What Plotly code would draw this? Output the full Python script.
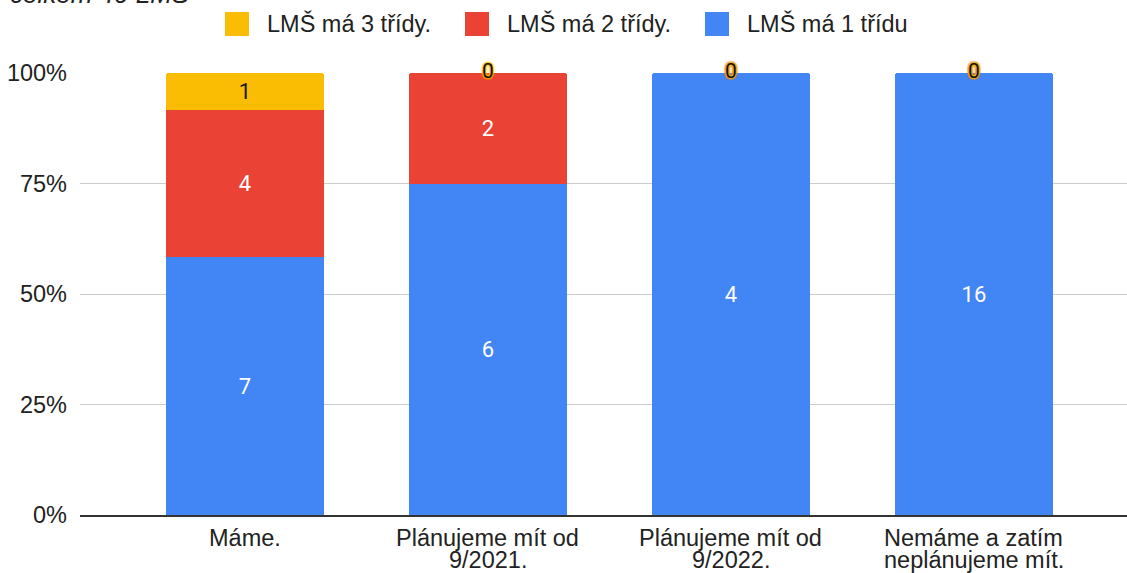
import numpy as np
import plotly.graph_objects as go

categories = ["Máme.", "Plánujeme mít od 9/2021.", "Plánujeme mít od 9/2022.", "Nemáme a zatím neplánujeme mít."]
tick_line1 = ["Máme.", "Plánujeme mít od", "Plánujeme mít od", "Nemáme a zatím"]
tick_line2 = ["", "9/2021.", "9/2022.", "neplánujeme mít."]
series_names = ["LMŠ má 1 třídu", "LMŠ má 2 třídy.", "LMŠ má 3 třídy."]
trida1 = [7, 6, 4, 16]
trida2 = [4, 2, 0, 0]
trida3 = [1, 0, 0, 0]
y_ticks = [0, 25, 50, 75, 100]
subtitle = "celkem 40 LMŠ"

series = [trida1, trida2, trida3]
colors = ["#4285f4", "#ea4335", "#fbbc04"]
label_colors = ["white", "white", "#1a1a1a"]

W, H = 1127, 573
ML, MR, MT, MB = 80, 0, 73, 58
PW, PH = W - ML - MR, H - MT - MB
FONT = "Liberation Sans, Arial"
FS = 23.5

def px_x(px):
    return (px - ML) / PW

def px_y(py):
    return 1 + (MT - py) / PH

fig = go.Figure()
for vals, name, col, lc in zip(series, series_names, colors, label_colors):
    fig.add_trace(go.Bar(
        x=categories, y=vals, name=name, marker=dict(color=col, line=dict(width=0)),
        text=[str(v) if v != 0 else "" for v in vals], texttemplate="%{text}",
        textposition="inside", insidetextanchor="middle", textangle=0,
        textfont=dict(family="Roboto", size=22, color=lc),
        width=0.65, showlegend=False, hoverinfo="skip",
    ))

# zero-value labels at top of stack
data = np.array(series, dtype=float)
totals = data.sum(axis=0)
cum = np.cumsum(data, axis=0) / totals * 100
outline = {1: "#ea4335", 2: "#fbbc04"}
for i in [1, 2]:
    xs, ys = [], []
    for j, c in enumerate(categories):
        if data[i, j] == 0:
            xs.append(c)
            ys.append(cum[i, j])
    if xs:
        oc = outline[i]
        fig.add_trace(go.Scatter(
            x=xs, y=ys, mode="text", text=["0"] * len(xs), textposition="middle center",
            textfont=dict(family="Roboto", size=21, color="#111",
                          shadow=f"0 0 2px {oc}, 0 0 2px {oc}, 0 0 2px {oc}, 0 0 2px {oc}, 0 0 3px {oc}"),
            showlegend=False, hoverinfo="skip", cliponaxis=False,
        ))

# custom legend (order: 3, 2, 1)
legend_sq_x = [225, 465, 705]
legend_txt_x = [265, 505, 745]
for k, idx in enumerate([2, 1, 0]):
    fig.add_shape(type="rect", xref="paper", yref="paper",
                  x0=px_x(legend_sq_x[k]), x1=px_x(legend_sq_x[k] + 24),
                  y0=px_y(36), y1=px_y(12), fillcolor=colors[idx], line=dict(width=0))
    fig.add_annotation(xref="paper", yref="paper", x=px_x(legend_txt_x[k]), y=px_y(24),
                       xanchor="left", yanchor="middle", showarrow=False,
                       text=series_names[idx],
                       font=dict(family=FONT, size=FS, color="#222"))

# x category labels (two lines, tight spacing)
for c, l1, l2 in zip(categories, tick_line1, tick_line2):
    fig.add_annotation(xref="x", yref="paper", x=c, y=px_y(538), xanchor="center", yanchor="middle",
                       showarrow=False, text=l1, font=dict(family=FONT, size=FS, color="#222"))
    if l2:
        fig.add_annotation(xref="x", yref="paper", x=c, y=px_y(560), xanchor="center", yanchor="middle",
                           showarrow=False, text=l2, font=dict(family=FONT, size=FS, color="#222"))

fig.add_annotation(xref="paper", yref="paper", x=px_x(8), y=px_y(-6), xanchor="left", yanchor="middle",
                   showarrow=False, text=f"<i>{subtitle}</i>",
                   font=dict(family=FONT, size=26, color="#222"))

fig.update_layout(
    width=W, height=H, barmode="stack", barnorm="percent", barcornerradius=3,
    margin=dict(l=ML, r=MR, t=MT, b=MB, autoexpand=False),
    plot_bgcolor="white", paper_bgcolor="white",
    font=dict(family=FONT, size=FS, color="#222"),
    xaxis=dict(type="category", categoryorder="array", categoryarray=categories,
               range=[-0.679, 3.63], showticklabels=False,
               showline=True, linecolor="#333", linewidth=1.5, ticks="",
               showgrid=False),
    yaxis=dict(range=[0, 100], tickvals=y_ticks, ticktext=[f"{v}%" for v in y_ticks],
               showgrid=True, gridcolor="#cccccc", gridwidth=1, zeroline=False, showline=False,
               tickfont=dict(family=FONT, size=FS, color="#222"), ticklabelstandoff=12),
)

fig.write_html("out.html", config={"displayModeBar": False},
               post_script="document.body.style.margin='0';document.body.style.overflow='hidden';")
